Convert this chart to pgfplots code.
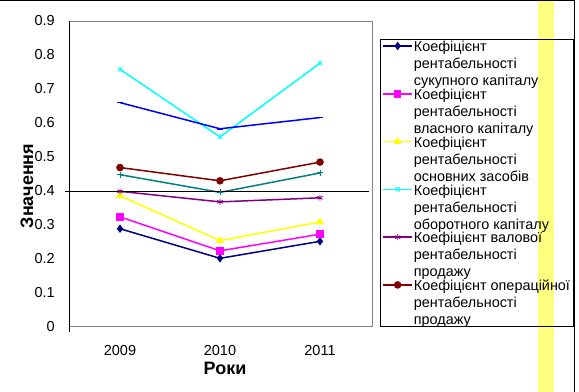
\documentclass[border=0pt]{standalone}
\usepackage{fontspec}
\setmainfont{Liberation Sans}
\usepackage{pgfplots}
\pgfplotsset{compat=1.18}
\definecolor{sNavy}{HTML}{000080}
\definecolor{sMag}{HTML}{FF00FF}
\definecolor{sYel}{HTML}{FFFF00}
\definecolor{sCyan}{HTML}{00FFFF}
\definecolor{sPurp}{HTML}{800080}
\definecolor{sMaroon}{HTML}{800000}
\definecolor{sTeal}{HTML}{008080}
\definecolor{sBlue}{HTML}{0000FF}
\definecolor{band}{HTML}{FFFF80}
\begin{document}
\begin{tikzpicture}
\useasboundingbox (0bp,0bp) rectangle (579bp,392bp);
\fill[band] (538bp,0bp) rectangle (554bp,392bp);
\draw[black, line width=1bp] (0bp,391.5bp) -- (574.5bp,391.5bp) -- (574.5bp,0bp);
\begin{axis}[
  at={(69bp,65bp)}, anchor=south west,
  scale only axis, width=303bp, height=306bp,
  xmin=-0.51, xmax=2.52, ymin=0, ymax=0.9,
  clip=false,
  xtick={0,1,2}, xticklabels={2009,2010,2011},
  ytick={0,0.1,0.2,0.3,0.4,0.5,0.6,0.7,0.8,0.9},
  yticklabels={0,0.1,0.2,0.3,0.4,0.5,0.6,0.7,0.8,0.9},
  major tick length=0pt,
  axis line style={draw=gray, line width=1bp},
  tick label style={font=\fontsize{14.5bp}{17bp}\selectfont},
  yticklabel style={inner sep=0pt, anchor=east, xshift=-14bp},
  xticklabel style={inner sep=0pt, anchor=north, yshift=-18bp},
  xlabel={Роки}, ylabel={Значення},
  label style={font=\bfseries\fontsize{18bp}{20bp}\selectfont},
  xlabel style={at={(rel axis cs:0.515,-0.134)}, anchor=center},
  ylabel style={at={(rel axis cs:-0.139,0.461)}, anchor=center, rotate=0},
  legend style={at={(1.0264,0.941)}, anchor=north west, draw=black, fill=none,
    line width=0.8bp,
    font=\fontsize{14.4bp}{17bp}\selectfont,
    inner xsep=2bp, inner ysep=0pt,
    nodes={inner xsep=1bp, inner ysep=0pt, align=left},
    cells={anchor=north west}, row sep=0pt},
  legend image code/.code={\draw[mark repeat=2,mark phase=2,#1] plot coordinates {(0bp,-6.5bp)(14.5bp,-6.5bp)(29bp,-6.5bp)};},
  every axis plot/.append style={line width=1.5bp},
]
\addplot[sNavy, mark=diamond*, mark size=3bp] coordinates {(0,0.289) (1,0.202) (2,0.252)};
\addlegendentry{\strut Коефіцієнт\\\strut рентабельності\\\strut сукупного капіталу}
\addplot[sMag, mark=square*, mark size=3bp] coordinates {(0,0.324) (1,0.224) (2,0.273)};
\addlegendentry{\strut Коефіцієнт\\\strut рентабельності\\\strut власного капіталу}
\addplot[sYel, mark=triangle*, mark size=3.2bp] coordinates {(0,0.386) (1,0.254) (2,0.309)};
\addlegendentry{\strut Коефіцієнт\\\strut рентабельності\\\strut основних засобів}
\addplot[sCyan, mark=x, mark size=3bp, mark options={line width=1bp}] coordinates {(0,0.758) (1,0.559) (2,0.776)};
\addlegendentry{\strut Коефіцієнт\\\strut рентабельності\\\strut оборотного капіталу}
\addplot[sPurp, mark=asterisk, mark size=3bp, mark options={line width=0.8bp}] coordinates {(0,0.399) (1,0.368) (2,0.380)};
\addlegendentry{\strut Коефіцієнт валової\\\strut рентабельності\\\strut продажу}
\addplot[sMaroon, mark=*, mark size=3bp] coordinates {(0,0.469) (1,0.430) (2,0.485)};
\addlegendentry{\strut Коефіцієнт операційної\\\strut рентабельності\\\strut продажу}
\addplot[sTeal, mark=+, mark size=3bp, mark options={line width=1bp}, forget plot] coordinates {(0,0.448) (1,0.396) (2,0.453)};
\addplot[sBlue, mark=-, mark size=3bp, forget plot] coordinates {(0,0.660) (1,0.583) (2,0.616)};
\draw[black, line width=1bp] (axis cs:-0.55,0.4) -- (axis cs:2.49,0.4);
\end{axis}
\draw[black, line width=1bp] (69bp,60bp) -- (69bp,371bp);
\end{tikzpicture}
\end{document}
